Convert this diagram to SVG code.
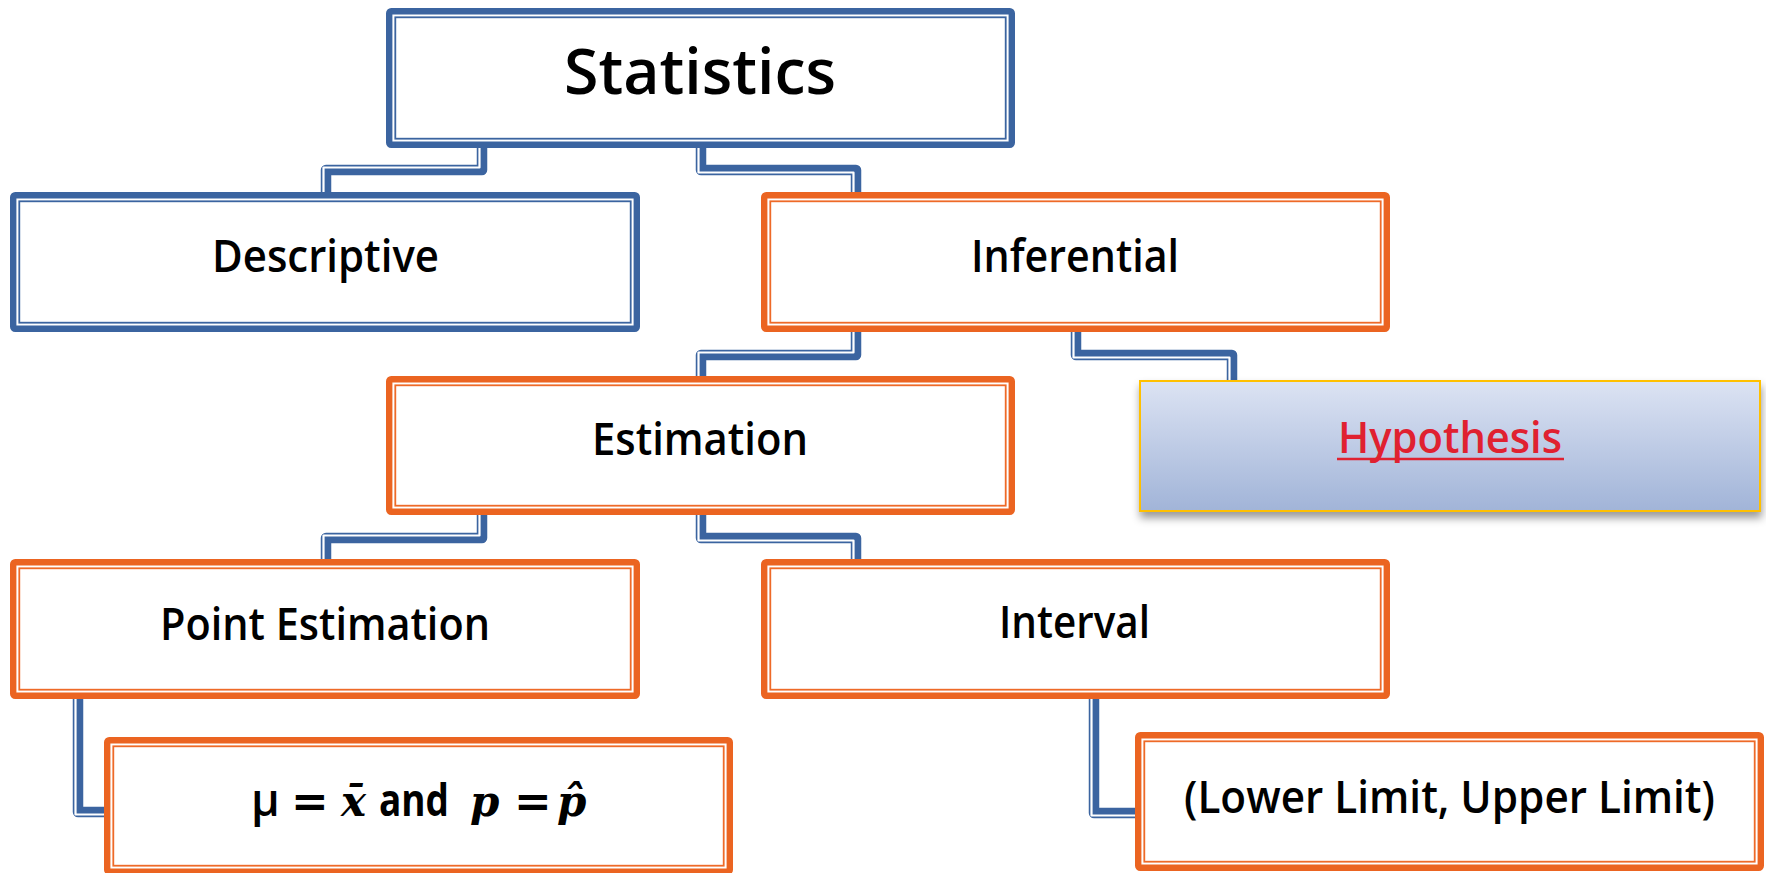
<svg xmlns="http://www.w3.org/2000/svg" width="1766" height="873" viewBox="0 0 1766 873">
<defs>
<linearGradient id="hg" x1="0" y1="0" x2="0" y2="1">
<stop offset="0" stop-color="#DCE3F3"/>
<stop offset="1" stop-color="#A1B4D8"/>
</linearGradient>
<filter id="sh" x="-5%" y="-10%" width="110%" height="130%">
<feDropShadow dx="1" dy="6" stdDeviation="4" flood-color="#000" flood-opacity="0.4"/>
</filter>
</defs>
<style>
.bb{fill:#fff;stroke:#3B64A0;stroke-width:6.4}
.bt{fill:none;stroke:#3B64A0;stroke-width:1.8}
.ob{fill:#fff;stroke:#EB6421;stroke-width:6.4}
.ot{fill:none;stroke:#EE6A28;stroke-width:1.8}
.cn{fill:none;stroke:#3B64A0;stroke-width:10.5;stroke-linejoin:round}
.cw{fill:none;stroke:#fff;stroke-width:2.2;stroke-linejoin:round}
.t{font-family:"Open Sans","Liberation Sans",sans-serif;font-weight:600;fill:#000;text-anchor:middle;font-size:45px}
.m{font-family:"DejaVu Serif","Liberation Serif",serif;font-weight:700;font-style:italic;font-size:42px}
.eq{font-family:"DejaVu Sans",sans-serif;font-weight:700}
</style>
<rect width="1766" height="873" fill="#fff"/>
<g id="connectors">
<path class="cn" d="M482,146 V170 H326 V194"/>
<path class="cw" d="M479.5,146 V167.5 H323.5 V194"/>
<path class="cn" d="M701,146 V170 H856 V194"/>
<path class="cw" d="M698.5,146 V172.5 H853.5 V194"/>
<path class="cn" d="M856,330 V355 H701 V378"/>
<path class="cw" d="M853.5,330 V352.5 H698.5 V378"/>
<path class="cn" d="M1076,330 V355 H1232 V382"/>
<path class="cw" d="M1073.5,330 V357.5 H1229.5 V382"/>
<path class="cn" d="M482,513 V538 H326 V561"/>
<path class="cw" d="M479.5,513 V535.5 H323.5 V561"/>
<path class="cn" d="M701,513 V538 H856 V561"/>
<path class="cw" d="M698.5,513 V540.5 H853.5 V561"/>
<path class="cn" d="M78,697 V812 H108"/>
<path class="cw" d="M75.5,697 V814.5 H108"/>
<path class="cn" d="M1094,697 V813 H1138"/>
<path class="cw" d="M1091.5,697 V815.5 H1138"/>
</g>
<g id="statistics">
<rect class="bb" x="389.2" y="11.2" width="622.6" height="133.6" rx="2"/>
<rect class="bt" x="395.3" y="17.3" width="610.4" height="121.4"/>
<text class="t" x="700" y="94" style="font-size:64px" textLength="272" lengthAdjust="spacingAndGlyphs">Statistics</text>
</g>
<g id="descriptive">
<rect class="bb" x="13.2" y="195.2" width="623.6" height="133.6" rx="2"/>
<rect class="bt" x="19.3" y="201.3" width="611.4" height="121.4"/>
<text class="t" x="325.5" y="272" textLength="227" lengthAdjust="spacingAndGlyphs">Descriptive</text>
</g>
<g id="inferential">
<rect class="ob" x="764.2" y="195.2" width="622.6" height="133.6" rx="2"/>
<rect class="ot" x="770.3" y="201.3" width="610.4" height="121.4"/>
<text class="t" x="1075" y="272" textLength="208" lengthAdjust="spacingAndGlyphs">Inferential</text>
</g>
<g id="estimation">
<rect class="ob" x="389.2" y="379.2" width="622.6" height="132.6" rx="2"/>
<rect class="ot" x="395.3" y="385.3" width="610.4" height="120.4"/>
<text class="t" x="700" y="455" textLength="216" lengthAdjust="spacingAndGlyphs">Estimation</text>
</g>
<g id="hypothesis">
<rect x="1140" y="381" width="620" height="130" fill="url(#hg)" stroke="#FFC000" stroke-width="2" filter="url(#sh)"/>
<text class="t" x="1450" y="453" style="font-size:43px;fill:#E02130" textLength="224" lengthAdjust="spacingAndGlyphs">Hypothesis</text>
<line x1="1337" y1="459" x2="1564" y2="459" stroke="#E02130" stroke-width="2.6"/>
</g>
<g id="point-estimation">
<rect class="ob" x="13.2" y="562.2" width="623.6" height="133.6" rx="2"/>
<rect class="ot" x="19.3" y="568.3" width="611.4" height="121.4"/>
<text class="t" x="325" y="640" textLength="330" lengthAdjust="spacingAndGlyphs">Point Estimation</text>
</g>
<g id="interval">
<rect class="ob" x="764.2" y="562.2" width="622.6" height="133.6" rx="2"/>
<rect class="ot" x="770.3" y="568.3" width="610.4" height="121.4"/>
<text class="t" x="1074.5" y="638" textLength="151" lengthAdjust="spacingAndGlyphs">Interval</text>
</g>
<g id="point-values">
<rect class="ob" x="107.2" y="740.2" width="622.6" height="131.6" rx="2"/>
<rect class="ot" x="113.3" y="746.3" width="610.4" height="119.4"/>
<text class="t" y="816" style="text-anchor:start;font-size:45px"><tspan x="251">μ</tspan><tspan class="eq" x="291">=</tspan><tspan class="m" x="341">x̄</tspan><tspan x="379" style="font-weight:700" textLength="70" lengthAdjust="spacingAndGlyphs">and</tspan><tspan class="m" x="470">p</tspan><tspan class="eq" x="514">=</tspan><tspan class="m" x="557">p̂</tspan></text>
</g>
<g id="interval-limits">
<rect class="ob" x="1138.2" y="735.2" width="622.6" height="132.6" rx="2"/>
<rect class="ot" x="1144.3" y="741.3" width="610.4" height="120.4"/>
<text class="t" x="1449.5" y="813" textLength="531" lengthAdjust="spacingAndGlyphs">(Lower Limit, Upper Limit)</text>
</g>
</svg>
